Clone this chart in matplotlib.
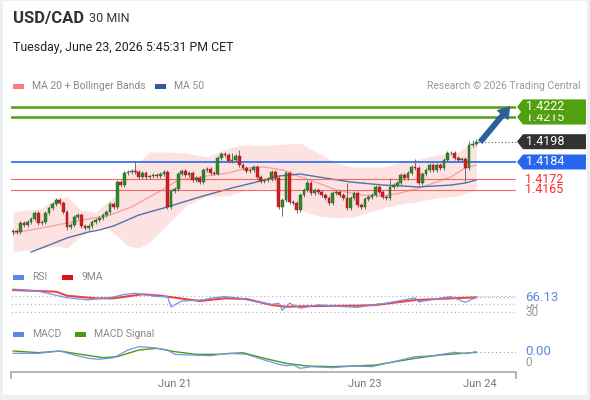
import matplotlib.pyplot as plt
import numpy as np
from matplotlib.patches import Polygon, Rectangle
from matplotlib.transforms import IdentityTransform

plt.rcParams['font.family'] = ['Roboto', 'DejaVu Sans']

# ---------------- data ----------------
SYMBOL = "USD/CAD"
PERIOD = "30 MIN"
STAMP = "Tuesday, June 23, 2026 5:45:31 PM CET"
CREDIT = "Research \u00a9 2026 Trading Central"

FIRST_OPEN = 1.41357
CLOSES = [
    1.41364, 1.41357, 1.41419, 1.41406, 1.41426, 1.41447, 1.41488, 1.41419, 1.41426, 1.41488,
    1.41523, 1.41550, 1.41578, 1.41557, 1.41495, 1.41392, 1.41406, 1.41461, 1.41474, 1.41399,
    1.41385, 1.41399, 1.41426, 1.41440, 1.41454, 1.41474, 1.41495, 1.41550, 1.41530, 1.41702,
    1.41681, 1.41764, 1.41771, 1.41778, 1.41771, 1.41737, 1.41764, 1.41737, 1.41740, 1.41750,
    1.41743, 1.41757, 1.41771, 1.41530, 1.41640, 1.41654, 1.41757, 1.41778, 1.41750, 1.41764,
    1.41716, 1.41730, 1.41702, 1.41785, 1.41792, 1.41764, 1.41760, 1.41868, 1.41895, 1.41888,
    1.41847, 1.41854, 1.41881, 1.41819, 1.41799, 1.41778, 1.41785, 1.41806, 1.41737, 1.41709,
    1.41716, 1.41723, 1.41771, 1.41730, 1.41530, 1.41578, 1.41764, 1.41564, 1.41557, 1.41509,
    1.41612, 1.41647, 1.41695, 1.41626, 1.41647, 1.41633, 1.41612, 1.41592, 1.41557, 1.41626,
    1.41633, 1.41612, 1.41592, 1.41523, 1.41592, 1.41626, 1.41543, 1.41530, 1.41585, 1.41599,
    1.41612, 1.41668, 1.41633, 1.41599, 1.41592, 1.41668, 1.41681, 1.41695, 1.41750, 1.41730,
    1.41764, 1.41806, 1.41799, 1.41695, 1.41757, 1.41785, 1.41819, 1.41785, 1.41819, 1.41799,
    1.41854, 1.41902, 1.41905, 1.41868, 1.41854, 1.41861, 1.41799, 1.41957, 1.41964, 1.41980,
]
# long wicks (candle index -> price), other candles get a short default wick
HIGH_WICKS = {34: 1.41847, 61: 1.41902, 63: 1.41923, 82: 1.41716, 93: 1.41695,
              105: 1.41730, 112: 1.41861, 127: 1.41985, 128: 1.41995, 129: 1.41999}
LOW_WICKS = {0: 1.41336, 15: 1.41371, 43: 1.41516, 75: 1.41467, 79: 1.41488, 126: 1.41702}
WICK = 0.00012

MA20_IDX = [0, 8, 15, 21, 27, 33, 38, 42, 46, 52, 60, 65, 70, 75, 80, 85, 90, 97, 103, 108,
            114, 122, 126, 129]
MA20 = [1.41350, 1.41385, 1.41419, 1.41447, 1.41474, 1.41530, 1.41599, 1.41654, 1.41716,
        1.41737, 1.41764, 1.41799, 1.41806, 1.41785, 1.41737, 1.41695, 1.41647, 1.41612,
        1.41606, 1.41626, 1.41668, 1.41737, 1.41799, 1.41819]

BAND_IDX = [0, 8, 12, 15, 19, 23, 26, 29, 32, 35, 38, 43, 48, 54, 60, 64, 71, 76, 80, 85,
            90, 95, 103, 108, 112, 118, 124, 129]
BAND_UP = [1.41495, 1.41523, 1.41592, 1.41599, 1.41509, 1.41495, 1.41557, 1.41626, 1.41764,
           1.41840, 1.41909, 1.41909, 1.41902, 1.41875, 1.41937, 1.41957, 1.41957, 1.41964,
           1.41971, 1.41902, 1.41833, 1.41806, 1.41806, 1.41840, 1.41854, 1.41888, 1.41909,
           1.41992]
BAND_LO = [1.41219, 1.41247, 1.41260, 1.41247, 1.41329, 1.41385, 1.41385, 1.41329, 1.41260,
           1.41247, 1.41288, 1.41412, 1.41536, 1.41606, 1.41606, 1.41640, 1.41661, 1.41592,
           1.41509, 1.41467, 1.41454, 1.41461, 1.41523, 1.41550, 1.41564, 1.41592, 1.41606,
           1.41647]

MA50_IDX = [5, 10, 15, 21, 24, 28, 35, 43, 52, 61, 69, 74, 80, 85, 94, 103, 113, 122, 126, 129]
MA50 = [1.41219, 1.41267, 1.41316, 1.41357, 1.41371, 1.41399, 1.41474, 1.41530, 1.41599,
        1.41661, 1.41709, 1.41743, 1.41757, 1.41737, 1.41702, 1.41681, 1.41668, 1.41681,
        1.41695, 1.41716]

TARGETS = [1.4222, 1.4215]
PIVOT = 1.4184
SUPPORTS = [1.4172, 1.4165]

RSI_IDX = [0, 7, 15, 21, 28, 31, 34, 40, 43, 44, 47, 53, 55, 59, 63, 68, 72, 74, 75, 77,
           80, 85, 91, 96, 101, 104, 109, 112, 113, 119, 122, 126, 129]
RSI = [86, 81, 65, 60, 67, 73, 76, 68, 68, 43, 57, 60, 64, 68, 64, 55, 49, 52, 35, 52,
       40, 48, 44, 42, 49, 52, 60, 65, 55, 64, 68, 54, 66.13]
RSI_MA_IDX = [0, 12, 15, 23, 28, 36, 41, 43, 52, 59, 65, 72, 76, 85, 96, 101, 112, 122, 129]
RSI_MA = [83.7, 79.6, 70, 63.7, 63.7, 73.4, 70, 67.6, 57.2, 63.7, 62, 47.6, 43.5, 45.2,
          45.9, 47.6, 59.6, 63.7, 66.0]
RSI_LEVELS = [70, 50, 30]
RSI_LABELLED = [50, 30]

MACD_IDX = [0, 7, 13, 17, 21, 24, 28, 32, 35, 39, 43, 45, 49, 55, 60, 65, 70, 74, 76, 78,
            80, 83, 89, 95, 100, 106, 112, 117, 123, 126, 129]
MACD = [0.00026, 0.00026, 0.00033, 0.00021, 0.00011, 0.00008, 0.00013, 0.00036, 0.00046,
        0.00043, 0.00036, 0.00023, 0.00021, 0.00019, 0.00026, 0.00023, 0.00006, -0.00007,
        -0.00011, -0.00009, -0.00019, -0.00014, -0.00017, -0.00012, -0.00014, 0.00001,
        0.00016, 0.00019, 0.00029, 0.00025, 0.00031]
SIGNAL_IDX = [0, 7, 13, 17, 25, 29, 35, 40, 45, 51, 57, 64, 70, 76, 82, 89, 97, 101, 112,
              119, 129]
SIGNAL = [0.00033, 0.00028, 0.00033, 0.00026, 0.00013, 0.00016, 0.00036, 0.00041, 0.00031,
          0.00023, 0.00023, 0.00028, 0.00011, -0.00004, -0.00012, -0.00014, -0.00011,
          -0.00009, 0.00011, 0.00021, 0.00029]

DATE_TICKS = [45, 98, 130]
DATE_LABELS = ["Jun 21", "Jun 23", "Jun 24"]

# ---------------- style ----------------
W, H = 590, 400
C_UP, C_DN = "#2f8a2a", "#d21f1f"
C_GREEN, C_BLUE, C_RED = "#52a010", "#2767f0", "#f06a6a"
C_GREY = "#8a8a8a"
XLIM = (-0.6, 140.1)


def fx(px):
    return px / W


def fy(py):
    return 1 - py / H


fig = plt.figure(figsize=(W / 100, H / 100), dpi=100)
fig.patch.set_facecolor("#edf0f3")
fig.add_artist(Rectangle((fx(3), fy(395)), 584 / W, 394 / H, transform=fig.transFigure,
                         fc="white", ec="none", zorder=-10))

ax = fig.add_axes([fx(11), fy(260), 505 / W, 165 / H])
ax_rsi = fig.add_axes([fx(11), fy(318), 505 / W, 35 / H])
ax_macd = fig.add_axes([fx(11), fy(372), 505 / W, 32 / H])
for a in (ax, ax_rsi, ax_macd):
    a.set_facecolor("none")
    a.set_xlim(*XLIM)
    for s in a.spines.values():
        s.set_visible(False)
    a.set_yticks([])
ax.set_xticks([])
ax_rsi.set_xticks([])

# ---------------- price panel ----------------
ax.set_ylim(1.41164, 1.42302)
closes = np.array(CLOSES)
opens = np.concatenate([[FIRST_OPEN], closes[:-1]])
idx = np.arange(len(closes))
highs = np.maximum(opens, closes) + WICK
lows = np.minimum(opens, closes) - WICK
for i, v in HIGH_WICKS.items():
    highs[i] = v
for i, v in LOW_WICKS.items():
    lows[i] = v

ax.fill_between(BAND_IDX, BAND_LO, BAND_UP, color="#fde2e2", lw=0, zorder=1)
ax.plot(MA20_IDX, MA20, color="#f5a3a3", lw=1.0, zorder=2)
ax.plot(MA50_IDX, MA50, color="#4e72ad", lw=1.0, zorder=2)

for t in TARGETS:
    ax.axhline(t, color=C_GREEN, lw=1.8, zorder=2)
ax.axhline(PIVOT, color=C_BLUE, lw=1.2, zorder=2)
for s in SUPPORTS:
    ax.axhline(s, color=C_RED, lw=0.8, zorder=2)

up = closes >= opens
ax.vlines(idx, lows, highs, color="#6e6e6e", lw=0.7, zorder=3)
ax.bar(idx[up], (closes - opens)[up], bottom=opens[up], width=0.75,
       color=C_UP, edgecolor="#1f5e1c", lw=0.3, zorder=4)
ax.bar(idx[~up], (opens - closes)[~up], bottom=closes[~up], width=0.75,
       color=C_DN, edgecolor="#9a1010", lw=0.3, zorder=4)

ax.hlines(closes[-1], idx[-1] + 0.5, XLIM[1], colors="#555555", lw=0.8,
          linestyles=(0, (1, 2)), zorder=3)
ax.annotate("", xy=(idx[-1] + 9.3, TARGETS[0]), xytext=(idx[-1] + 1.2, closes[-1]),
            arrowprops=dict(arrowstyle="simple,head_length=0.75,head_width=0.95,tail_width=0.32",
                            color="#2d5f9e", mutation_scale=10, shrinkA=0, shrinkB=0),
            annotation_clip=False, zorder=6)


def tag(a, value, face, text, z):
    yd = a.transData.transform((0, value))[1]
    pts = [(517, yd), (523, yd + 7.5), (586, yd + 7.5), (586, yd - 7.5), (523, yd - 7.5)]
    fig.add_artist(Polygon(pts, closed=True, transform=IdentityTransform(),
                           fc=face, ec="none", zorder=z))
    fig.text(526, yd, text, transform=IdentityTransform(), color="white",
             ha="left", va="center", fontsize=9, zorder=z + 0.5)


def side_text(a, value, text, color, size=9, box=False, z=5):
    yd = a.transData.transform((0, value))[1]
    kw = dict(bbox=dict(fc="white", ec="none", pad=0.1)) if box else {}
    fig.text(525, yd, text, transform=IdentityTransform(), color=color,
             ha="left", va="center", fontsize=size, zorder=z, **kw)


tag(ax, TARGETS[1], C_GREEN, f"{TARGETS[1]:.4f}", 5)
tag(ax, TARGETS[0], C_GREEN, f"{TARGETS[0]:.4f}", 7)
tag(ax, closes[-1], "#333333", f"{closes[-1]:.4f}", 5)
tag(ax, PIVOT, C_BLUE, f"{PIVOT:.4f}", 5)
for s in SUPPORTS:
    side_text(ax, s, f"{s:.4f}", "#ff2a2a")

# ---------------- RSI panel ----------------
ax_rsi.set_ylim(16.3, 100.6)
for lv in RSI_LEVELS:
    ax_rsi.axhline(lv, color="#b0b0b0", lw=0.8, ls=(0, (1, 2.5)))
for lv in RSI_LABELLED:
    side_text(ax_rsi, lv, str(lv), "#999999", size=8.5, z=4)
ax_rsi.plot(RSI_MA_IDX, RSI_MA, color="#ee3030", lw=1.5, alpha=0.9)
ax_rsi.plot(RSI_IDX, RSI, color="#7196ea", lw=0.9)
ax_rsi.hlines(RSI[-1], RSI_IDX[-1], XLIM[1], colors="#7196ea", lw=0.8, linestyles=(0, (1, 2.5)))
side_text(ax_rsi, RSI[-1], f"{RSI[-1]:.2f}", "#5d86e6", size=9.5, box=True, z=6)

# ---------------- MACD panel ----------------
ax_macd.set_ylim(-0.0003, 0.00066)
ax_macd.plot(SIGNAL_IDX, SIGNAL, color="#4c9a12", lw=1.0)
ax_macd.plot(MACD_IDX, MACD, color="#7196ea", lw=0.9)
ax_macd.hlines(MACD[-1], MACD_IDX[-1], XLIM[1], colors="#7196ea", lw=0.8,
               linestyles=(0, (1, 2.5)))
side_text(ax_macd, MACD[-1], f"{MACD[-1]:.2f}", "#5d86e6", size=9.5)
side_text(ax_macd, 0, "0", "#999999", size=8.5)

ax_macd.spines["bottom"].set_visible(True)
ax_macd.spines["bottom"].set_color("#a8a8a8")
ax_macd.spines["bottom"].set_linewidth(1.2)
ax_macd.set_xticks(DATE_TICKS)
ax_macd.set_xticklabels(DATE_LABELS)
ax_macd.set_xticks(list(XLIM), minor=True)
ax_macd.tick_params(axis="x", which="major", length=0, pad=5, labelsize=8, labelcolor="#777777")
ax_macd.tick_params(axis="x", which="minor", length=5, width=1.2, color="#a8a8a8")

# ---------------- header and legends ----------------
fig.text(fx(13), fy(19), SYMBOL, fontsize=12, fontweight="bold", color="#333333", va="center")
fig.text(fx(89), fy(19), PERIOD, fontsize=9, color="#333333", va="center")
fig.text(fx(13), fy(48), STAMP, fontsize=8.9, color="#222222", va="center")


def legend_item(x, y, color, label):
    fig.add_artist(Rectangle((fx(x), fy(y + 2.5)), 11 / W, 5 / H, transform=fig.transFigure,
                             fc=color, ec="none"))
    fig.text(fx(x + 19), fy(y), label, fontsize=7.5, color=C_GREY, va="center")


legend_item(13, 86, "#f77f7f", "MA 20 + Bollinger Bands")
legend_item(155, 86, "#2f5c9c", "MA 50")
fig.text(fx(581), fy(86), CREDIT, fontsize=7.5, color="#999999", va="center", ha="right")
legend_item(13, 277, "#5d86e6", "RSI")
legend_item(62, 277, "#e81010", "9MA")
legend_item(13, 334, "#5d86e6", "MACD")
legend_item(75, 334, "#4c9a12", "MACD Signal")

fig.savefig("out.png", dpi=100)
